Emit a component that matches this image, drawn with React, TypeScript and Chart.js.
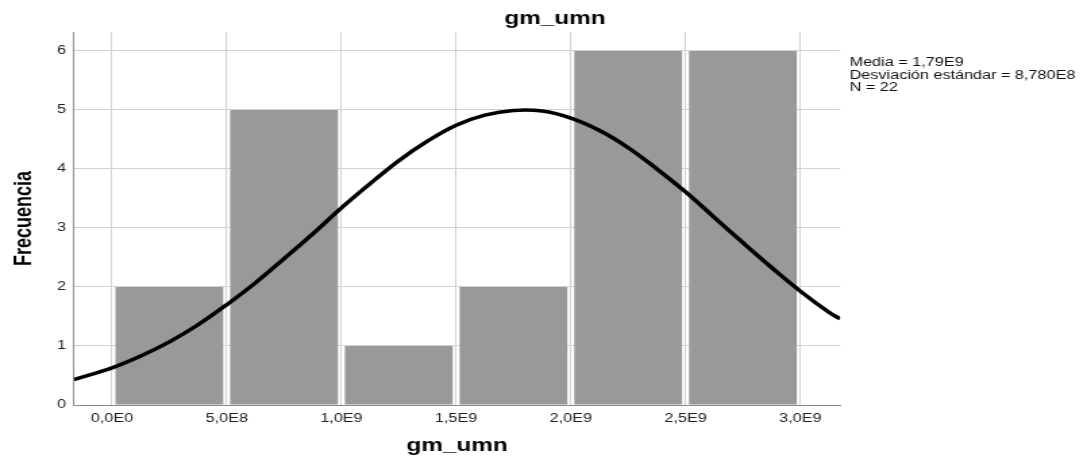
import { useEffect, useRef } from 'react';
import { Chart, registerables } from 'chart.js';

Chart.register(...registerables);

// ---- data ----
const chartTitle = 'gm_umn';
const xAxisTitle = 'gm_umn';
const yAxisTitle = 'Frecuencia';

const binCenters = [2.5e8, 7.5e8, 1.25e9, 1.75e9, 2.25e9, 2.75e9];
const binCounts = [2, 5, 1, 2, 6, 6];

const curveX = [
  -1.657e8, 0, 1.25e8, 2.5e8, 3.75e8, 5e8, 6.25e8, 7.5e8, 8.75e8, 1e9, 1.125e9, 1.25e9, 1.375e9, 1.5e9,
  1.625e9, 1.75e9, 1.875e9, 2e9, 2.125e9, 2.25e9, 2.375e9, 2.5e9, 2.625e9, 2.75e9, 2.875e9, 3e9, 3.125e9, 3.174e9,
];
const curveY = [
  0.43, 0.63, 0.83, 1.07, 1.36, 1.7, 2.07, 2.48, 2.9, 3.34, 3.75, 4.14, 4.47, 4.74,
  4.91, 4.99, 4.98, 4.86, 4.65, 4.36, 4.0, 3.61, 3.18, 2.75, 2.33, 1.93, 1.57, 1.46,
];

const xTicks = [0, 5e8, 1e9, 1.5e9, 2e9, 2.5e9, 3e9];
const xTickLabels = ['0,0E0', '5,0E8', '1,0E9', '1,5E9', '2,0E9', '2,5E9', '3,0E9'];
const yTicks = [0, 1, 2, 3, 4, 5, 6];

const statsLines = ['Media = 1,79E9', 'Desviación estándar = 8,780E8', 'N = 22'];

const X_MIN = -1.657e8;
const X_MAX = 3.174e9;
const Y_MAX = 6.32;

// ---- layout (internal canvas is stretched horizontally like the reference) ----
const OUT_W = 1087;
const OUT_H = 461;
const IN_W = 805;
const FONT = '"Liberation Sans", Arial, sans-serif';

const sideTextPlugin = {
  id: 'sideText',
  afterDraw(chart: any) {
    const { ctx, chartArea } = chart;
    ctx.save();
    ctx.fillStyle = '#000';
    ctx.font = `bold 18px ${FONT}`;
    ctx.textAlign = 'center';
    ctx.textBaseline = 'alphabetic';
    ctx.fillText(chartTitle, 411, 24);
    ctx.font = `12px ${FONT}`;
    ctx.textAlign = 'left';
    ctx.fillStyle = '#111';
    statsLines.forEach((s, i) => ctx.fillText(s, chartArea.right + 7, 66 + i * 12.5));
    ctx.restore();
  },
};

export default function App() {
  const ref = useRef<HTMLCanvasElement>(null);

  useEffect(() => {
    document.body.style.margin = '0';
    const chart = new Chart(ref.current as HTMLCanvasElement, {
      type: 'bar',
      data: {
        datasets: [
          {
            type: 'line',
            data: curveX.map((x, i) => ({ x, y: curveY[i] })),
            borderColor: '#000',
            borderWidth: 3.5,
            pointRadius: 0,
            fill: false,
            tension: 0.4,
            order: 0,
          } as any,
          {
            type: 'bar',
            data: binCenters.map((x, i) => ({ x, y: binCounts[i] })),
            backgroundColor: '#999999',
            borderWidth: 0,
            barPercentage: 0.94,
            categoryPercentage: 1,
            order: 1,
          } as any,
        ],
      },
      options: {
        animation: false,
        responsive: true,
        maintainAspectRatio: false,
        layout: { padding: { top: 32, right: IN_W - 622.2, bottom: 0, left: 0 } },
        plugins: {
          legend: { display: false },
          tooltip: { enabled: false },
          title: { display: false },
        },
        scales: {
          x: {
            type: 'linear',
            min: X_MIN,
            max: X_MAX,
            offset: false,
            grid: { color: '#d2d2d2', lineWidth: 1, drawTicks: false, offset: false },
            border: { color: '#8a8a8a', width: 1 },
            afterBuildTicks: (scale: any) => {
              scale.ticks = xTicks.map((v) => ({ value: v }));
            },
            afterFit: (scale: any) => {
              scale.height = 56;
            },
            ticks: {
              padding: 6,
              color: '#222',
              font: { size: 12, family: FONT },
              maxRotation: 0,
              autoSkip: false,
              callback: (v: any) => {
                const i = xTicks.indexOf(Number(v));
                return i >= 0 ? xTickLabels[i] : '';
              },
            },
            title: {
              display: true,
              text: xAxisTitle,
              color: '#000',
              font: { size: 18, weight: 'bold', family: FONT },
              padding: { top: 0, bottom: 4 },
            },
          },
          y: {
            type: 'linear',
            min: 0,
            max: Y_MAX,
            grid: { color: '#d2d2d2', lineWidth: 1, drawTicks: false },
            border: { color: '#8a8a8a', width: 1 },
            afterBuildTicks: (scale: any) => {
              scale.ticks = yTicks.map((v) => ({ value: v }));
            },
            afterFit: (scale: any) => {
              scale.width = 54.8;
            },
            ticks: {
              padding: 6,
              color: '#222',
              font: { size: 12, family: FONT },
              callback: (v: any) => String(v),
            },
            title: {
              display: true,
              text: yAxisTitle,
              color: '#000',
              font: { size: 18, weight: 'bold', family: FONT },
              padding: { top: 7, bottom: 0 },
            },
          },
        },
      },
      plugins: [sideTextPlugin],
    } as any);
    return () => chart.destroy();
  }, []);

  return (
    <div style={{ width: OUT_W, height: OUT_H, overflow: 'hidden', background: '#fff' }}>
      <div
        style={{
          width: IN_W,
          height: OUT_H,
          transform: `scaleX(${OUT_W / IN_W})`,
          transformOrigin: '0 0',
        }}
      >
        <canvas ref={ref} />
      </div>
    </div>
  );
}
